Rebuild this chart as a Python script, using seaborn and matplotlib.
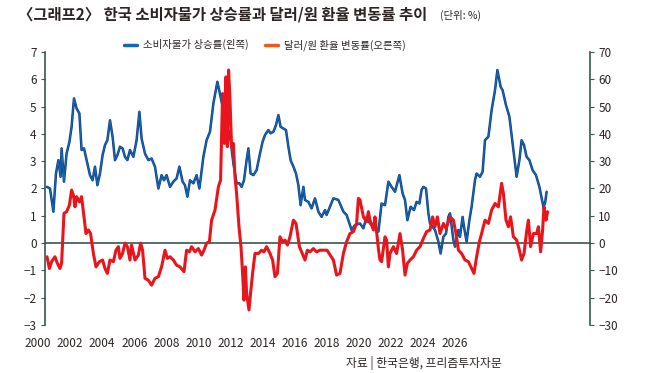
"""
Korea CPI inflation vs USD/KRW rate of change, 2000-2024.
Run: python plot.py  ->  out.png
"""

import matplotlib

matplotlib.use("Agg")
import matplotlib.pyplot as plt
import pandas as pd
import seaborn as sns

# consumer price inflation (%, left axis)
cpi_year = [
    2000.0, 2000.15, 2000.32, 2000.45, 2000.57, 2000.68, 2000.73, 2000.85, 2000.98, 2001.12,
    2001.23, 2001.35, 2001.48, 2001.62, 2001.73, 2001.85, 2001.98, 2002.15, 2002.28, 2002.40,
    2002.52, 2002.65, 2002.78, 2002.90, 2003.02, 2003.15, 2003.28, 2003.40, 2003.52, 2003.65,
    2003.78, 2003.90, 2004.02, 2004.15, 2004.32, 2004.48, 2004.62, 2004.73, 2004.90, 2005.07,
    2005.23, 2005.40, 2005.57, 2005.73, 2005.85, 2005.98, 2006.15, 2006.32, 2006.48, 2006.62,
    2006.78, 2006.90, 2007.02, 2007.15, 2007.32, 2007.48, 2007.62, 2007.82, 2007.98, 2008.15,
    2008.32, 2008.52, 2008.68, 2008.82, 2008.95, 2009.07, 2009.18, 2009.32, 2009.48, 2009.62,
    2009.73, 2009.85, 2009.98, 2010.07, 2010.18, 2010.32, 2010.48, 2010.65, 2010.78, 2010.90,
    2011.07, 2011.18, 2011.32, 2011.45, 2011.57, 2011.68, 2011.82, 2011.95, 2012.07, 2012.18,
    2012.32, 2012.45, 2012.57, 2012.68, 2012.82, 2012.90, 2013.07, 2013.23, 2013.40, 2013.57,
    2013.73, 2013.90,
    2013.98, 2014.32, 2014.57, 2014.82, 2014.98, 2015.23, 2015.40, 2015.65, 2015.82, 2015.98,
    2016.15, 2016.40, 2016.57, 2016.73, 2016.90, 2017.07, 2017.23, 2017.40, 2017.62, 2017.78,
    2017.90, 2018.02, 2018.18, 2018.35, 2018.48, 2018.62, 2018.73, 2018.82, 2018.95, 2019.07,
    2019.15, 2019.40, 2019.57, 2019.68, 2019.82, 2019.95, 2020.07, 2020.15, 2020.32, 2020.40,
    2020.57, 2020.65, 2020.78, 2020.85, 2020.98, 2021.12, 2021.23, 2021.40, 2021.48, 2021.65,
    2021.78, 2021.90, 2022.07, 2022.23, 2022.40, 2022.52, 2022.68, 2022.78, 2022.95, 2023.12,
    2023.28, 2023.48, 2023.62, 2023.73, 2023.85, 2023.98, 2024.12, 2024.28, 2024.45, 2024.62,
    2024.82, 2024.90, 2024.98,
]
cpi_rate = [
    2.06, 2.0, 1.15, 2.55, 3.04, 2.43, 3.47, 2.25, 3.28, 3.7,
    4.26, 5.3, 4.93, 4.75, 3.41, 3.47, 3.04, 2.49, 2.3, 2.8,
    2.12, 2.55, 3.22, 3.59, 3.77, 4.5, 3.9, 3.04, 3.22, 3.53,
    3.47, 3.16, 3.04, 3.41, 3.16, 3.77, 4.81, 3.83, 3.28, 3.04,
    3.1, 2.8, 2.0, 2.49, 2.3, 2.49, 2.06, 2.25, 2.37, 2.8,
    2.25, 2.12, 1.7, 2.3, 2.19, 2.49, 2.0, 3.16, 3.77, 4.08,
    5.12, 5.91, 5.36, 4.87, 3.77, 4.14, 3.77, 2.92, 2.19, 2.19,
    2.06, 2.3, 3.04, 3.47, 2.55, 2.49, 2.67, 3.28, 3.71, 3.96,
    4.14, 4.02, 4.08, 4.32, 4.69, 4.26, 4.2, 4.14, 3.53, 3.04,
    2.8, 2.55, 2.12, 1.39, 2.06, 1.58, 1.51, 1.27, 1.64, 1.15,
    0.96, 1.21,
    1.03, 1.64, 1.58, 1.15, 1.03, 0.48, 0.66, 0.72, 0.54, 0.96,
    0.72, 0.54, 0.42, 1.45, 1.39, 2.25, 2.06, 1.88, 2.49, 1.82,
    1.58, 0.84, 1.33, 1.21, 1.51, 1.45, 1.95, 2.06, 2.0, 1.09,
    0.72, 0.48, 0.05, -0.38, 0.23, 0.35, 0.96, 1.09, 0.11, -0.13,
    0.48, 0.23, 0.96, 0.6, 0.05, 0.84, 1.33, 2.31, 2.55, 2.43,
    2.61, 3.77, 3.9, 4.87, 5.6, 6.34, 5.73, 5.6, 5.05, 4.63,
    3.65, 2.43, 3.04, 3.77, 3.59, 3.16, 3.04, 2.67, 2.49, 2.06,
    1.33, 1.45, 1.88,
]

# USD/KRW year-on-year change (%, right axis)
fx_year = [
    2000.0, 2000.12, 2000.23, 2000.40, 2000.52, 2000.65, 2000.73, 2000.85, 2000.98, 2001.12,
    2001.23, 2001.32, 2001.40, 2001.48, 2001.62, 2001.73, 2001.85, 2001.95, 2002.07, 2002.18,
    2002.32, 2002.45, 2002.62, 2002.78, 2002.90, 2003.02, 2003.15, 2003.32, 2003.45, 2003.57,
    2003.65, 2003.78, 2003.90, 2004.02, 2004.15, 2004.23, 2004.40, 2004.57, 2004.68, 2004.78,
    2004.90, 2005.07, 2005.23, 2005.40, 2005.57, 2005.73, 2005.90, 2006.02, 2006.15, 2006.32,
    2006.48, 2006.65, 2006.85, 2006.98, 2007.12, 2007.23, 2007.40, 2007.57, 2007.73, 2007.85,
    2007.98, 2008.12, 2008.23, 2008.40, 2008.57, 2008.68, 2008.78, 2008.87, 2008.95, 2009.02,
    2009.08, 2009.15, 2009.23, 2009.32, 2009.40, 2009.48, 2009.60, 2009.70, 2009.78, 2009.85,
    2009.92, 2009.98, 2010.10, 2010.18, 2010.28, 2010.40, 2010.57, 2010.73, 2010.85, 2010.98,
    2011.15, 2011.28, 2011.40, 2011.52, 2011.65, 2011.78, 2011.90, 2012.02, 2012.15, 2012.32,
    2012.45, 2012.62, 2012.73, 2012.90, 2013.02, 2013.15, 2013.32, 2013.48, 2013.65,
    2014.0, 2014.32, 2014.48, 2014.65, 2014.82, 2014.98, 2015.15, 2015.32, 2015.48, 2015.57,
    2015.65, 2015.82, 2015.98, 2016.07, 2016.15, 2016.32, 2016.40, 2016.57, 2016.65, 2016.73,
    2016.90, 2016.98, 2017.07, 2017.15, 2017.32, 2017.48, 2017.65, 2017.78, 2017.90, 2018.02,
    2018.15, 2018.32, 2018.48, 2018.65, 2018.82, 2018.98, 2019.15, 2019.28, 2019.40, 2019.52,
    2019.65, 2019.82, 2019.95, 2020.07, 2020.15, 2020.32, 2020.45, 2020.57, 2020.73, 2020.90,
    2021.07, 2021.23, 2021.35, 2021.48, 2021.62, 2021.73, 2021.90, 2022.07, 2022.23, 2022.40,
    2022.57, 2022.73, 2022.82, 2022.95, 2023.07, 2023.18, 2023.32, 2023.48, 2023.62, 2023.73,
    2023.85, 2023.98, 2024.07, 2024.18, 2024.32, 2024.48, 2024.57, 2024.68, 2024.78, 2024.85,
    2024.95, 2025.03,
]
fx_rate = [
    -5.0, -9.3, -6.8, -5.0, -7.4, -9.3, -7.4, 10.9, 11.5, 13.9,
    19.4, 17.6, 13.3, 17.0, 15.1, 17.0, 9.6, 3.5, 4.8, 3.5,
    -3.8, -8.7, -6.8, -6.2, -9.3, -11.1, -6.2, -6.8, -2.6, -1.3,
    -5.6, -3.8, 0.0, -1.3, -6.2, -0.7, -6.2, -4.4, 0.0, -2.6,
    -12.9, -13.6, -15.4, -12.9, -12.3, -8.7, -2.6, -5.6, -5.0, -6.2,
    -8.1, -8.7, -10.5, -2.6, -3.2, -1.3, -3.2, -2.0, -4.4, -2.6,
    0.0, 0.5, 8.4, 12.1, 20.6, 23.1, 54.8, 36.5, 60.9, 35.3,
    63.4, 52.4, 35.3, 36.5, 24.3, 18.2, 6.0, -1.3, -11.1, -20.9,
    -8.7, -18.3, -24.5, -18.3, -11.1, -3.8, -3.8, -2.6, -3.2, -1.3,
    -3.8, -6.2, -12.3, -11.1, 2.3, 0.5, 1.1, -0.7, 2.3, 8.4,
    7.2, -1.3, -3.2, -6.2, -2.6, -3.2, -2.0, -3.2, -2.6,
    -2.6, -6.2, -11.7, -11.1, -3.8, 0.5, 3.5, 4.2, 7.2, 16.4,
    15.8, 9.6, 7.8, 11.5, 8.4, 4.8, 9.6, -2.0, -6.2, -6.8,
    2.3, 1.1, -8.7, -3.8, -1.3, -3.8, 3.5, -2.6, -11.7, -7.4,
    -6.2, -5.0, -2.6, -1.3, 1.7, 4.2, 4.8, 9.6, 6.0, 9.6,
    3.5, 7.2, 5.4, 7.8, 9.6, 8.4, 3.5, -2.6, -3.8, -6.2,
    -6.8, -9.3, -11.1, -5.0, 0.5, 3.5, 8.4, 7.2, 12.1, 14.5,
    13.3, 21.9, 18.2, 8.4, 6.0, 9.6, 2.3, 1.1, -2.6, -6.2,
    -3.8, 4.2, 8.4, -1.3, 3.5, 3.5, 6.0, -3.2, 4.8, 13.3,
    8.4, 11.5,
]

left_ticks = [7, 6, 5, 4, 3, 2, 1, 0, -1, -2, -3]
right_ticks = [70, 60, 50, 40, 30, 20, 10, 0, -10, -20, -30]
year_labels = [2000, 2002, 2004, 2006, 2008, 2010, 2012, 2014, 2016, 2018,
               2020, 2022, 2024, 2026]

TITLE = "〈그래프2〉 한국 소비자물가 상승률과 달러/원 환율 변동률 추이"
UNIT = "(단위: %)"
SOURCE = "자료 | 한국은행, 프리즘투자자문"
CPI_LABEL = "소비자물가 상승률(왼쪽)"
FX_LABEL = "달러/원 환율 변동률(오른쪽)"

BLUE = "#1667b3"
RED = "#e8151c"
LEGEND_ORANGE = "#f05a1c"
AXIS = "#35574f"
TEXT = "#2b2422"

sns.set_theme(style="white")
plt.rcParams["font.family"] = ["Noto Sans CJK KR", "DejaVu Sans"]
plt.rcParams["axes.unicode_minus"] = True

cpi = pd.DataFrame({"year": cpi_year, "rate": cpi_rate})
fx = pd.DataFrame({"year": fx_year, "rate": fx_rate})

fig = plt.figure(figsize=(6.5, 3.73), dpi=100)
ax = fig.add_axes([0.0692, 0.1287, 0.8385, 0.7319])
ax2 = ax.twinx()

# blue on the left scale (dark edge + lighter core), red on the right scale on top
sns.lineplot(data=cpi, x="year", y="rate", ax=ax, color="#0d3b82", lw=1.8)
sns.lineplot(data=cpi, x="year", y="rate", ax=ax, color=BLUE, lw=0.9)
sns.lineplot(data=fx, x="year", y="rate", ax=ax2, color=RED, lw=2.2)

ax.set_xlim(1999.9, 2027.15)
ax.set_ylim(-3, 7)
ax2.set_ylim(-30, 70)
ax.set_xlabel("")
ax.set_ylabel("")
ax2.set_ylabel("")

ax.set_yticks(left_ticks)
ax2.set_yticks(right_ticks)
ax.tick_params(axis="y", direction="out", length=3, width=0.8, color=AXIS,
               labelsize=8.5, labelcolor=TEXT, pad=3)
ax2.tick_params(axis="y", direction="out", length=3, width=0.8, color=AXIS,
                labelsize=8.5, labelcolor=TEXT, pad=3)

# x axis sits on the zero line with a small tick each year
ax.spines["bottom"].set_position(("data", 0))
ax.spines["bottom"].set_color(AXIS)
ax.spines["bottom"].set_linewidth(1.2)
ax.set_xticks(range(2000, 2028))
ax.tick_params(axis="x", direction="out", length=2, width=0.7, color=AXIS,
               labelbottom=False)

for a in (ax, ax2):
    a.spines["top"].set_visible(False)
ax.spines["right"].set_visible(False)
ax2.spines["left"].set_visible(False)
ax2.spines["bottom"].set_visible(False)
ax.spines["left"].set_color(AXIS)
ax.spines["left"].set_linewidth(1.2)
ax2.spines["right"].set_color(AXIS)
ax2.spines["right"].set_linewidth(1.2)

# year labels in the original are drawn on their own, tighter spacing
for yr in year_labels:
    xpos = 1999.55 + (yr - 2000) * 0.802
    ax.text(xpos, -0.066, str(yr), transform=ax.get_xaxis_transform(),
            ha="center", va="center", fontsize=8.5, color=TEXT, clip_on=False)

# legend
handles = [plt.Line2D([], [], color=BLUE, lw=2.5),
           plt.Line2D([], [], color=LEGEND_ORANGE, lw=2.5)]
fig.legend(handles, [CPI_LABEL, FX_LABEL], loc="center",
           bbox_to_anchor=(265 / 650, 1 - 45 / 373), ncol=2, frameon=False,
           fontsize=7.5, handlelength=1.2, handletextpad=0.6, columnspacing=1.6,
           labelcolor=TEXT)

fig.text(18 / 650, 1 - 14 / 373, TITLE, fontsize=11.1, fontweight="heavy",
         color=TEXT, ha="left", va="center")
fig.text(440 / 650, 1 - 15 / 373, UNIT, fontsize=7.5, color=TEXT,
         ha="left", va="center")
fig.text(502 / 650, 1 - 363 / 373, SOURCE, fontsize=8.5, color=TEXT,
         ha="right", va="center")

fig.savefig("out.png", dpi=100)
plt.close(fig)
